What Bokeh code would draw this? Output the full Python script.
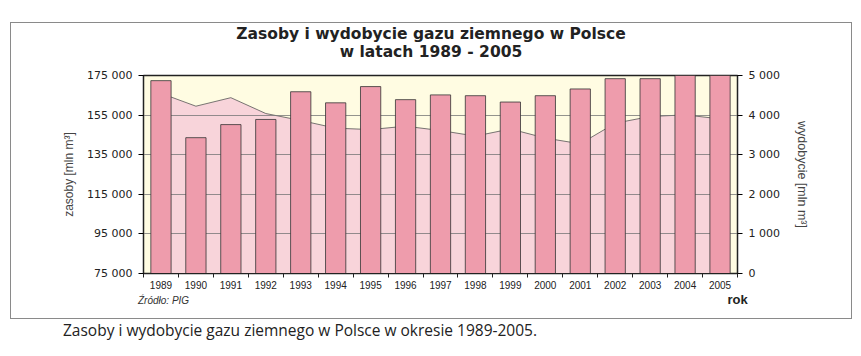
from bokeh.plotting import figure
from bokeh.models import Range1d, LinearAxis, FixedTicker, Div
from bokeh.layouts import column
from bokeh.embed import file_html
from bokeh.resources import INLINE

years = list(range(1989, 2006))
zasoby = [166000, 159500, 163800, 155800, 152300, 148400, 147700, 149400, 147200,
          144400, 148000, 143400, 140500, 150900, 154300, 155100, 153100]
wydobycie = [4870, 3430, 3760, 3890, 4590, 4310, 4720, 4390, 4510, 4490, 4330,
             4490, 4660, 4920, 4920, 5060, 5060]
left_ticks = [75000, 95000, 115000, 135000, 155000, 175000]
right_ticks = [0, 1000, 2000, 3000, 4000, 5000]
title_lines = ["Zasoby i wydobycie gazu ziemnego w Polsce", "w latach 1989 - 2005"]

def fmt(v):
    return f"{v:,}".replace(",", " ")

# bordered box: canvas x 10..851, y 22..318 ; frame x 143..737, y 75..273
BOX_W = 840
TITLE_H = 44          # y 23..67
FIG_H = 242           # y 67..309
SRC_H = 9             # y 309..318
FL = 143 - 11
FR = 737 - 11
FT = 75 - 67
FB = 273 - 67

title_div = Div(text="<br>".join(title_lines), width=BOX_W, height=TITLE_H, margin=0,
                styles={"font-family": "DejaVu Sans", "font-weight": "bold",
                        "font-size": "15.5px", "line-height": "18px", "color": "#222222",
                        "text-align": "center", "padding-top": "2px",
                        "box-sizing": "border-box", "width": f"{BOX_W}px"})

p = figure(width=BOX_W, height=FIG_H, output_backend="svg", toolbar_location=None,
           x_range=Range1d(1988.5, 2005.5), y_range=Range1d(75000, 175000),
           min_border_left=FL, min_border_right=BOX_W - FR,
           min_border_top=FT, min_border_bottom=FIG_H - FB, margin=0)
p.background_fill_color = "#FFFCE2"
p.border_fill_color = "white"
p.outline_line_color = "#222222"
p.outline_line_width = 1.5
p.extra_y_ranges = {"right": Range1d(0, 5000)}

# area (zasoby) below the grid
p.varea(x=years, y1=75000, y2=zasoby, fill_color="#F8D4DA", fill_alpha=1, level="image")
p.line(x=years, y=zasoby, line_color="#555555", line_width=0.8, level="image")

# bars (wydobycie)
p.vbar(x=years, top=wydobycie, bottom=0, width=0.58, y_range_name="right",
       fill_color="#EE9CAC", line_color="#333333", line_width=0.8)

p.xgrid.visible = False
p.ygrid.ticker = FixedTicker(ticks=left_ticks)
p.ygrid.grid_line_color = "#777777"
p.ygrid.grid_line_width = 0.8

xa = p.xaxis[0]
xa.ticker = FixedTicker(ticks=years, minor_ticks=[y - 0.5 for y in years] + [2005.5])
xa.major_tick_line_color = None
xa.major_tick_out = 0
xa.major_tick_in = 0
xa.minor_tick_out = 4
xa.minor_tick_in = 0
xa.minor_tick_line_color = "#222222"
xa.major_label_text_font = "Liberation Sans"
xa.major_label_text_font_size = "10px"
xa.major_label_text_color = "#222222"
xa.major_label_standoff = 3
xa.axis_line_color = "#222222"
xa.axis_label = "rok"
xa.axis_label_align = "end"
xa.axis_label_text_font = "Liberation Sans"
xa.axis_label_text_font_style = "bold"
xa.axis_label_text_font_size = "13px"
xa.axis_label_text_color = "#222222"
xa.axis_label_standoff = 0

ya = p.yaxis[0]
ya.ticker = FixedTicker(ticks=left_ticks)
ya.major_label_overrides = {t: fmt(t) for t in left_ticks}
ya.minor_tick_line_color = None
ya.major_tick_out = 5
ya.major_tick_in = 0
ya.major_label_text_font = "DejaVu Sans"
ya.major_label_text_font_size = "11px"
ya.major_label_text_color = "#222222"
ya.major_label_standoff = 6
ya.axis_label = "zasoby [mln m³]"
ya.axis_label_text_font = "Liberation Sans"
ya.axis_label_text_font_style = "normal"
ya.axis_label_text_font_size = "12px"
ya.axis_label_standoff = 8
ya.axis_line_color = "#222222"

ra = LinearAxis(y_range_name="right", ticker=FixedTicker(ticks=right_ticks))
ra.major_label_overrides = {t: fmt(t) for t in right_ticks}
ra.minor_tick_line_color = None
ra.major_tick_out = 5
ra.major_tick_in = 0
ra.major_label_text_font = "DejaVu Sans"
ra.major_label_text_font_size = "11px"
ra.major_label_text_color = "#222222"
ra.major_label_standoff = 6
ra.axis_label = "wydobycie [mln m³]"
ra.axis_label_text_font = "Liberation Sans"
ra.axis_label_text_font_style = "normal"
ra.axis_label_text_font_size = "12.5px"
ra.axis_label_standoff = 12
ra.axis_line_color = "#222222"
p.add_layout(ra, "right")

src_div = Div(text='<span style="position:relative; top:-14px">Źródło: PIG</span>',
              width=BOX_W, height=SRC_H, margin=0,
              styles={"font-family": "Liberation Sans", "font-style": "italic",
                      "font-size": "10px", "line-height": "12px", "color": "#333333",
                      "padding-left": "127px", "box-sizing": "border-box",
                      "width": f"{BOX_W}px", "overflow": "visible"})

box = column(title_div, p, src_div, spacing=0, margin=0,
             styles={"border": "1px solid #8a8a8a", "background": "white"})

caption = Div(text="Zasoby i wydobycie gazu ziemnego w Polsce w okresie 1989-2005.",
              width=780, height=24, margin=(1, 0, 0, 53),
              styles={"font-family": "Open Sans", "font-size": "15.5px", "color": "#222222",
                      "line-height": "20px"})

layout = column(box, caption, margin=(22, 0, 0, 10), spacing=0)

open("out.html", "w").write(file_html(layout, INLINE))
